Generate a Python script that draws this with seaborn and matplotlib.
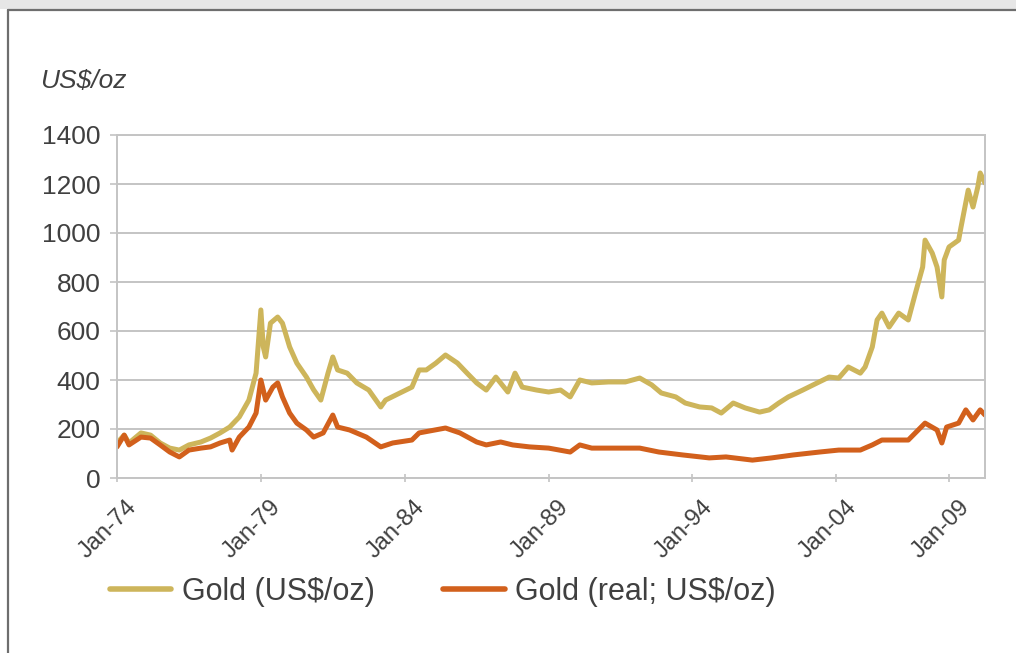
import matplotlib
matplotlib.use("Agg")
import matplotlib.pyplot as plt
import matplotlib.transforms as mtransforms
from matplotlib.lines import Line2D
import seaborn as sns
import pandas as pd

# ---- data (period index along the category axis, values in US$/oz) ----
nominal_period = [0, 3, 5, 10, 14, 18, 22, 26, 30, 35, 39, 43, 47, 51, 55, 58, 60, 61, 62, 64,
                  67, 69, 72, 75, 79, 82, 85, 88, 90, 92, 96, 100, 105, 110, 112, 118, 123, 126,
                  129, 133, 137, 142, 146, 150, 154, 158, 163, 166, 169, 175, 180, 185, 189, 193,
                  198, 205, 212, 218, 223, 227, 233, 237, 243, 248, 252, 257, 262, 268, 272, 276,
                  280, 286, 292, 297, 301, 305, 310, 312, 315, 317, 319, 322, 326, 330, 333, 336,
                  337, 340, 342, 344, 345, 347, 351, 352, 355, 357, 359, 360, 362]
nominal_value = [143, 175, 143, 184, 175, 143, 122, 114, 135, 147, 163, 184, 208, 249, 318, 428,
                 686, 535, 494, 632, 657, 632, 535, 469, 412, 360, 318, 428, 494, 441, 428, 388,
                 359, 290, 318, 347, 371, 441, 441, 469, 502, 469, 428, 388, 359, 412, 351, 428,
                 371, 359, 351, 359, 331, 400, 388, 392, 392, 408, 380, 347, 331, 306, 290, 286,
                 265, 306, 286, 269, 278, 306, 331, 359, 388, 412, 408, 453, 428, 453, 535, 645,
                 673, 616, 673, 645, 755, 861, 971, 918, 861, 739, 890, 943, 971, 1024, 1175,
                 1106, 1188, 1245, 1204]

real_period = [0, 3, 5, 10, 14, 18, 22, 26, 30, 35, 39, 43, 47, 48, 51, 55, 58, 60, 62, 65, 67,
               69, 72, 75, 79, 82, 86, 90, 92, 97, 104, 110, 115, 123, 126, 137, 143, 150, 154,
               160, 165, 172, 180, 189, 193, 198, 208, 218, 226, 236, 247, 254, 265, 273, 282,
               293, 301, 310, 315, 319, 330, 337, 342, 344, 346, 351, 354, 357, 360, 362]
real_value = [127, 175, 135, 167, 163, 135, 106, 86, 114, 122, 127, 143, 155, 114, 167, 208, 265,
              400, 318, 371, 388, 331, 265, 224, 196, 167, 184, 257, 208, 196, 167, 127, 143, 155,
              184, 204, 184, 147, 135, 147, 135, 127, 122, 106, 135, 122, 122, 122, 106, 94, 82,
              86, 73, 82, 94, 106, 114, 114, 135, 155, 155, 224, 196, 143, 208, 224, 278, 237,
              278, 257]

tick_periods = [0, 60, 120, 180, 240, 300, 347]
tick_labels = ["Jan-74", "Jan-79", "Jan-84", "Jan-89", "Jan-94", "Jan-04", "Jan-09"]
y_ticks = [0, 200, 400, 600, 800, 1000, 1200, 1400]
series_names = ["Gold (US$/oz)", "Gold (real; US$/oz)"]
series_colors = ["#CDB55B", "#D2601C"]

df = pd.concat([
    pd.DataFrame({"period": nominal_period, "value": nominal_value, "series": series_names[0]}),
    pd.DataFrame({"period": real_period, "value": real_value, "series": series_names[1]}),
])

sns.set_theme(style="white")
plt.rcParams["font.family"] = ["Liberation Sans", "DejaVu Sans"]

fig = plt.figure(figsize=(10.16, 6.53), dpi=100)
ax = fig.add_axes([117 / 1016, 1 - 478 / 653, (985 - 117) / 1016, (478 - 135) / 653])

sns.lineplot(data=df, x="period", y="value", hue="series", palette=series_colors,
             hue_order=series_names, linewidth=3.6, ax=ax, legend=False, sort=False,
             estimator=None)

grid_c = "#C4C4C4"
ax.set_xlim(0, 362)
ax.set_ylim(0, 1400)
ax.set_yticks(y_ticks)
ax.set_xticks(tick_periods)
ax.set_xticklabels([""] * len(tick_periods))
ax.yaxis.grid(True, color=grid_c, linewidth=1.4)
ax.set_axisbelow(True)
for s in ax.spines.values():
    s.set_visible(True)
    s.set_color(grid_c)
    s.set_linewidth(1.4)
ax.set_xlabel("")
ax.set_ylabel("")
ax.tick_params(axis="y", labelsize=19, colors=grid_c, labelcolor="#404040", length=5,
               width=1.2, pad=7, left=True)
ax.tick_params(axis="x", colors=grid_c, length=6, width=1.2, bottom=True, direction="inout")

# rotated category labels, anchored just right of and below each tick
xlab_trans = (mtransforms.blended_transform_factory(ax.transData, ax.transAxes)
              + mtransforms.ScaledTranslation(9 / 100, -18 / 100, fig.dpi_scale_trans))
for p, lbl in zip(tick_periods, tick_labels):
    ax.text(p, 0, lbl, transform=xlab_trans, rotation=45, rotation_mode="anchor",
            ha="right", va="top", fontsize=17, color="#404040", clip_on=False)

fig.text(40 / 1016, 1 - 81 / 653, "US$/oz", fontsize=19, style="italic", color="#404040",
         va="center", ha="left")

handles = [Line2D([0], [0], color=c, linewidth=4) for c in series_colors]
fig.legend(handles, series_names, loc="center left", bbox_to_anchor=(110 / 1016, 1 - 592 / 653),
           ncol=2, frameon=False, fontsize=22, handlelength=2.0, handletextpad=0.35,
           columnspacing=2.25, labelcolor="#404040", borderpad=0, borderaxespad=0)

# outer frame of the original picture
fig.add_artist(plt.Rectangle((0, 1 - 9 / 653), 1, 9 / 653, transform=fig.transFigure,
                             color="#E6E6E6", linewidth=0))
fig.add_artist(Line2D([8 / 1016, 1], [1 - 10 / 653, 1 - 10 / 653], transform=fig.transFigure,
                      color="#6E6E6E", linewidth=1.6))
fig.add_artist(Line2D([8 / 1016, 8 / 1016], [0, 1 - 10 / 653], transform=fig.transFigure,
                      color="#6E6E6E", linewidth=1.6))

fig.savefig("out.png", dpi=100)
